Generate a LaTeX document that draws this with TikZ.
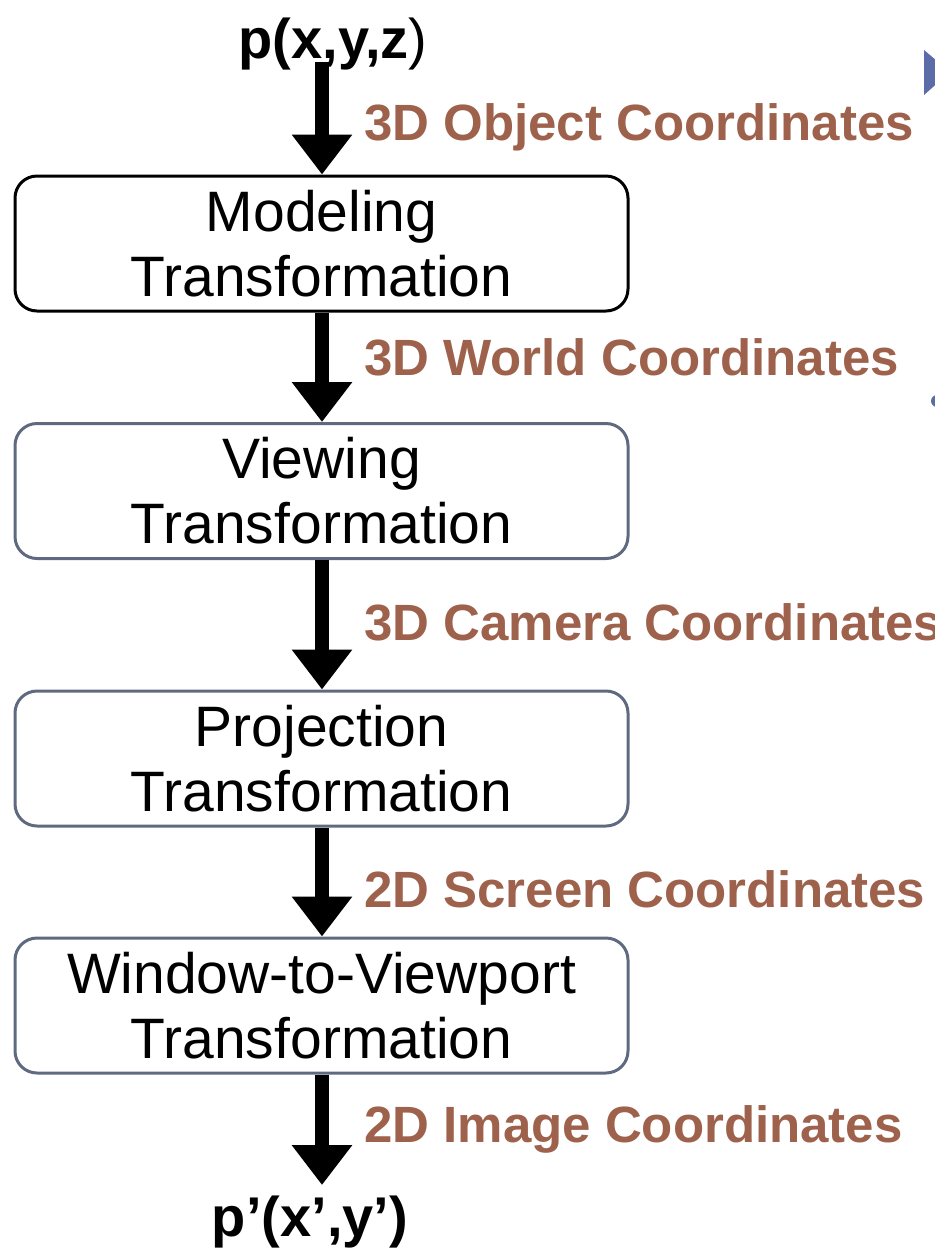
\documentclass[tikz,border=0pt]{standalone}
\usepackage{fontspec}
\setmainfont{Liberation Sans}
\usetikzlibrary{arrows.meta}
\definecolor{coordbrown}{RGB}{158,98,76}
\definecolor{boxslate}{RGB}{95,106,128}
\definecolor{bulletblue}{RGB}{92,108,166}
\tikzset{
  x=1pt, y=-1pt,
  stage/.style={draw=boxslate, line width=3pt, rounded corners=22pt,
    minimum width=613pt, minimum height=135pt, align=center,
    inner sep=0pt, font=\fontsize{57}{65}\selectfont},
  flow/.style={line width=14pt, -{Triangle[width=58pt,length=40pt]}},
  coordlabel/.style={anchor=west, inner sep=0pt, text=coordbrown,
    font=\fontsize{51}{60}\selectfont\bfseries},
  pointlabel/.style={inner sep=0pt, font=\fontsize{56}{60}\selectfont\bfseries}
}
\begin{document}
\begin{tikzpicture}
\useasboundingbox (0,0) rectangle (935,1254);
% partially visible slide bullets at the right edge
\fill[bulletblue] (924,50) -- (950,72) -- (924,95) -- cycle;
\fill[bulletblue] (937,401) circle (6);

% points
\node[pointlabel] (pin) at (333,44) {p(x,y,z\textmd{)}};
\node[pointlabel] (pout) at (310,1222) {p’(x’,y’)};

% transformation stages
\node[stage, draw=black] (model) at (321.5,243.5) {Modeling\\Transformation};
\node[stage] (view) at (321.5,491) {Viewing\\Transformation};
\node[stage] (proj) at (321.5,758.5) {Projection\\Transformation};
\node[stage] (win) at (321.5,1005.5) {Window-to-Viewport\\Transformation};

% connectors
\coordinate (top) at (322,62);
\coordinate (bottom) at (322,1185);
\draw[flow] (top) -- (top |- model.north);
\draw[flow] (model.south -| top) -- (view.north -| top);
\draw[flow] (view.south -| top) -- (proj.north -| top);
\draw[flow] (proj.south -| top) -- (win.north -| top);
\draw[flow] (win.south -| top) -- (bottom);

% coordinate system labels
\node[coordlabel] (l1) at (364,127) {3D Object Coordinates};
\node[coordlabel] (l2) at (364,357) {3D World Coordinates};
\node[coordlabel] (l3) at (364,622) {3D Camera Coordinates};
\node[coordlabel] (l4) at (364,889) {2D Screen Coordinates};
\node[coordlabel] (l5) at (364,1129) {2D Image Coordinates};
\end{tikzpicture}
\end{document}
